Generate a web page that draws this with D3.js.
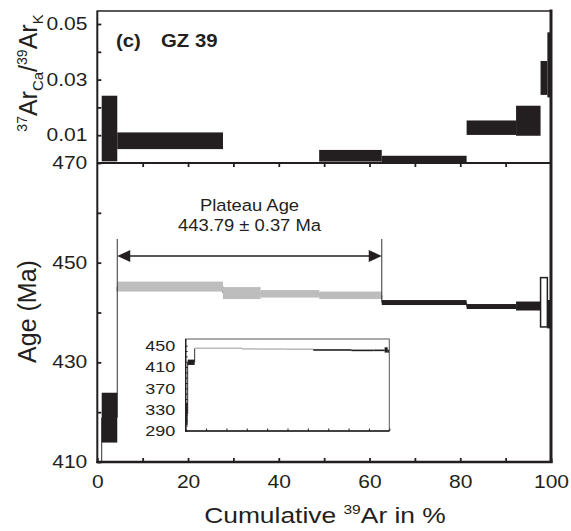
<!DOCTYPE html>
<html>
<head>
<meta charset="utf-8">
<script src="https://cdn.jsdelivr.net/npm/d3@7"></script>
<style>
body { margin: 0; background: #fff; }
text { font-family: "Liberation Sans", Arial, sans-serif; fill: #231f20; }
</style>
</head>
<body>
<div id="canvas"></div>
<script>
"use strict"

/* step edges in cumulative 39Ar %, one more entry than the steps */
let cumPercent = [0, 0.97, 4.4, 27.7, 36.0, 48.9, 62.7, 81.4, 92.3, 97.7, 99.2, 100];
let ages = [322, 418.9, 445.2, 443.9, 443.75, 443.45, 442.0, 441.2, 441.3, 442.05, 439.65];
let ageErrors = [21, 5.0, 1.0, 1.2, 0.75, 0.75, 0.5, 0.5, 0.9, 4.95, 2.85];
let caK = [0, 0.0124, 0.008, 0, 0, 0.0026, 0.0013, 0.0127, 0.0152, 0.0306, 0.0353];
let caKErrors = [0, 0.0118, 0.003, 0, 0, 0.0021, 0.0013, 0.0026, 0.0054, 0.0061, 0.0117];
let stepKind = ["step", "step", "plateau", "plateau", "plateau", "plateau", "step", "step", "step", "open", "step"];

let xTicks = [0, 10, 20, 30, 40, 50, 60, 70, 80, 90, 100];
let xLabels = [0, 20, 40, 60, 80, 100];
let ageTicks = [410, 420, 430, 440, 450, 460, 470];
let ageLabels = [410, 430, 450, 470];
let caKTicks = [0.01, 0.02, 0.03, 0.04, 0.05];
let caKLabels = [0.01, 0.03, 0.05];
let insetTicks = [290, 300, 310, 320, 330, 340, 350, 360, 370, 380, 390, 400, 410, 420, 430, 440, 450];
let insetLabels = [290, 330, 370, 410, 450];

let plateauText = ["Plateau Age", "443.79 \u00b1 0.37 Ma"];
let plateauFrom = 2, plateauTo = 5;

let ink = "#231f20";
let grey = "#bdbdbd";

let steps = ages.map((a, i) => ({
    x0: cumPercent[i], x1: cumPercent[i + 1],
    age: a, ageErr: ageErrors[i],
    ca: caK[i], caErr: caKErrors[i],
    kind: stepKind[i]
}));

let drawing = d3.select("#canvas")
    .append("svg")
    .attr("width", 571)
    .attr("height", 531);

let x = d3.scaleLinear().domain([0, 100]).range([97.3, 551]);
let yAge = d3.scaleLinear().domain([410, 470]).range([462, 163]);
let yCa = d3.scaleLinear().domain([0, 0.05]).range([163, 24]);
let xIn = d3.scaleLinear().domain([0, 100]).range([185.7, 389.3]);
let yIn = d3.scaleLinear().domain([290, 450]).range([431, 345.7]);

let defs = drawing.append("defs");
defs.append("clipPath").attr("id", "clipTop").append("rect")
    .attr("x", 97.3).attr("y", 11).attr("width", 551 - 97.3).attr("height", 152);
defs.append("clipPath").attr("id", "clipMain").append("rect")
    .attr("x", 97.3).attr("y", 163).attr("width", 551 - 97.3).attr("height", 299);
defs.append("clipPath").attr("id", "clipInset").append("rect")
    .attr("x", 185.7).attr("y", 339).attr("width", 389.3 - 185.7).attr("height", 92);

function fillOf(d) {
    if (d.kind === "plateau") return grey;
    if (d.kind === "open") return "#fff";
    return ink;
}

// stretch text sideways a little, the source type is wider than Arial
function stretch(sel, sx) {
    sel.each(function () {
        let t = d3.select(this);
        let x0 = +t.attr("x") || 0;
        t.attr("x", x0 / sx).attr("transform", "scale(" + sx + ",1)");
    });
}

/* Ca/K panel */
drawing.append("g").attr("clip-path", "url(#clipTop)")
    .selectAll("rect").data(steps).join("rect")
    .attr("x", d => x(d.x0))
    .attr("width", d => x(d.x1) - x(d.x0))
    .attr("y", d => yCa(d.ca + d.caErr))
    .attr("height", d => yCa(d.ca - d.caErr) - yCa(d.ca + d.caErr))
    .attr("fill", ink);

/* age spectrum: connectors first, boxes on top */
let mainG = drawing.append("g").attr("clip-path", "url(#clipMain)");
mainG.selectAll("line").data(steps.slice(1)).join("line")
    .attr("x1", d => x(d.x0)).attr("x2", d => x(d.x0))
    .attr("y1", (d, i) => yAge(steps[i].age))
    .attr("y2", d => yAge(d.age))
    .attr("stroke", "#333").attr("stroke-width", 1);
mainG.selectAll("rect").data(steps).join("rect")
    .attr("x", d => x(d.x0))
    .attr("width", d => x(d.x1) - x(d.x0))
    .attr("y", d => yAge(d.age + d.ageErr))
    .attr("height", d => yAge(d.age - d.ageErr) - yAge(d.age + d.ageErr))
    .attr("fill", fillOf)
    .attr("stroke", d => d.kind === "open" ? ink : "none")
    .attr("stroke-width", 1.5);

/* plateau bracket */
let bx0 = x(cumPercent[plateauFrom]);
let bx1 = x(cumPercent[plateauTo + 1]);
let bracketY = 256;
drawing.append("line")
    .attr("x1", bx0).attr("x2", bx0).attr("y1", 239)
    .attr("y2", yAge(ages[plateauFrom] - ageErrors[plateauFrom]))
    .attr("stroke", "#333").attr("stroke-width", 1);
drawing.append("line")
    .attr("x1", bx1).attr("x2", bx1).attr("y1", 239)
    .attr("y2", yAge(ages[plateauTo] - ageErrors[plateauTo]))
    .attr("stroke", "#333").attr("stroke-width", 1);
drawing.append("line")
    .attr("x1", bx0 + 6).attr("x2", bx1 - 6)
    .attr("y1", bracketY).attr("y2", bracketY)
    .attr("stroke", ink).attr("stroke-width", 1.5);
drawing.append("path")
    .attr("d", "M" + bx0 + "," + bracketY + "L" + (bx0 + 13) + "," + (bracketY - 6) + "L" + (bx0 + 13) + "," + (bracketY + 6) + "Z")
    .attr("fill", ink);
drawing.append("path")
    .attr("d", "M" + bx1 + "," + bracketY + "L" + (bx1 - 13) + "," + (bracketY - 6) + "L" + (bx1 - 13) + "," + (bracketY + 6) + "Z")
    .attr("fill", ink);

let ptext = drawing.append("g").attr("transform", "translate(249.5,0)");
ptext.selectAll("text").data(plateauText).join("text")
    .attr("y", (d, i) => 210.7 + i * 20.3)
    .attr("text-anchor", "middle")
    .attr("font-size", 17.2)
    .text(d => d)
    .call(stretch, 1.07);

/* inset with the full age range */
let insetG = drawing.append("g");
let insetClip = insetG.append("g").attr("clip-path", "url(#clipInset)");
insetClip.selectAll("line").data(steps.slice(1)).join("line")
    .attr("x1", d => xIn(d.x0)).attr("x2", d => xIn(d.x0))
    .attr("y1", (d, i) => yIn(steps[i].age))
    .attr("y2", d => yIn(d.age))
    .attr("stroke", "#333").attr("stroke-width", 1);
insetClip.selectAll("rect").data(steps).join("rect")
    .attr("x", d => xIn(d.x0))
    .attr("width", d => xIn(d.x1) - xIn(d.x0))
    .attr("y", d => Math.min(yIn(d.age + d.ageErr), yIn(d.age) - 0.8))
    .attr("height", d => Math.max(yIn(d.age - d.ageErr) - yIn(d.age + d.ageErr), 1.6))
    .attr("fill", d => d.kind === "open" ? ink : fillOf(d));

insetG.append("rect")
    .attr("x", 185.7).attr("y", 339)
    .attr("width", 389.3 - 185.7).attr("height", 92)
    .attr("fill", "none").attr("stroke", "#555").attr("stroke-width", 1);
insetG.append("path")
    .attr("d", "M185.7,339V431H389.3")
    .attr("fill", "none").attr("stroke", ink).attr("stroke-width", 1.4);

let insetLeft = insetG.append("g").attr("transform", "translate(185.7,0)")
    .call(d3.axisLeft(yIn).tickValues(insetTicks).tickSize(-2).tickPadding(10.5)
        .tickFormat(d => insetLabels.includes(d) ? d : ""));
let insetBottom = insetG.append("g").attr("transform", "translate(0,431)")
    .call(d3.axisBottom(xIn).tickValues(xTicks).tickSize(-2.5).tickFormat(""));
[insetLeft, insetBottom].forEach(g => {
    g.select(".domain").remove();
    g.selectAll("line").attr("stroke", ink).attr("stroke-width", 1);
});
insetLeft.selectAll("text").attr("font-size", 15).attr("font-family", null).call(stretch, 1.2);

/* axes */
let leftAge = drawing.append("g").attr("transform", "translate(97.3,0)")
    .call(d3.axisLeft(yAge).tickValues(ageTicks).tickSize(-4).tickPadding(10)
        .tickFormat(d => ageLabels.includes(d) ? d : ""));
let leftCa = drawing.append("g").attr("transform", "translate(97.3,0)")
    .call(d3.axisLeft(yCa).tickValues(caKTicks).tickSize(-4).tickPadding(10)
        .tickFormat(d => caKLabels.includes(d) ? String(d) : ""));
let bottomAxis = drawing.append("g").attr("transform", "translate(0,462)")
    .call(d3.axisBottom(x).tickValues(xTicks).tickSize(-4).tickPadding(14)
        .tickFormat(d => xLabels.includes(d) ? d : ""));
let sepAxis = drawing.append("g").attr("transform", "translate(0,163)")
    .call(d3.axisTop(x).tickValues(xTicks.slice(1, -1)).tickSize(-4).tickFormat(""));

[leftAge, leftCa, bottomAxis, sepAxis].forEach(g => {
    g.select(".domain").remove();
    g.selectAll("line").attr("stroke", ink).attr("stroke-width", 1.8);
    g.selectAll("text").attr("font-size", 17.5).attr("font-family", null).call(stretch, 1.2);
});

/* frame */
drawing.append("line").attr("x1", 97.3).attr("x2", 551).attr("y1", 11).attr("y2", 11)
    .attr("stroke", ink).attr("stroke-width", 1.5);
drawing.append("line").attr("x1", 97.3).attr("x2", 551).attr("y1", 163).attr("y2", 163)
    .attr("stroke", ink).attr("stroke-width", 2);
drawing.append("line").attr("x1", 96.3).attr("x2", 552.5).attr("y1", 462).attr("y2", 462)
    .attr("stroke", ink).attr("stroke-width", 2.4);
drawing.append("line").attr("x1", 97.3).attr("x2", 97.3).attr("y1", 10.5).attr("y2", 463)
    .attr("stroke", ink).attr("stroke-width", 2);
drawing.append("line").attr("x1", 551).attr("x2", 551).attr("y1", 9.5).attr("y2", 463)
    .attr("stroke", ink).attr("stroke-width", 3);

/* titles */
let panelLabel = drawing.append("g").attr("font-weight", "bold").attr("font-size", 18.5);
panelLabel.append("text").attr("x", 116).attr("y", 46.7).text("(c)").call(stretch, 1.1);
panelLabel.append("text").attr("x", 161).attr("y", 46.7).text("GZ 39").call(stretch, 1.1);

let xTitle = drawing.append("g").attr("transform", "translate(325,523) scale(1.2,1)")
    .append("text").attr("text-anchor", "middle").attr("font-size", 22);
xTitle.append("tspan").text("Cumulative ");
xTitle.append("tspan").attr("font-size", 13).attr("dy", -9).text("39");
xTitle.append("tspan").attr("dy", 9).text("Ar in %");

drawing.append("g").attr("transform", "translate(35.5,311.5) rotate(-90)")
    .append("text").attr("text-anchor", "middle").attr("font-size", 25)
    .text("Age (Ma)");

let caTitle = drawing.append("g").attr("transform", "translate(37,73) rotate(-90)")
    .append("text").attr("text-anchor", "middle").attr("font-size", 25);
caTitle.append("tspan").attr("font-size", 14).attr("dy", -10).text("37");
caTitle.append("tspan").attr("dy", 10).text("Ar");
caTitle.append("tspan").attr("font-size", 15).attr("dy", 6).text("Ca");
caTitle.append("tspan").attr("dy", -6).text("/");
caTitle.append("tspan").attr("font-size", 14).attr("dy", -10).text("39");
caTitle.append("tspan").attr("dy", 10).text("Ar");
caTitle.append("tspan").attr("font-size", 15).attr("dy", 6).text("K");
</script>
</body>
</html>
